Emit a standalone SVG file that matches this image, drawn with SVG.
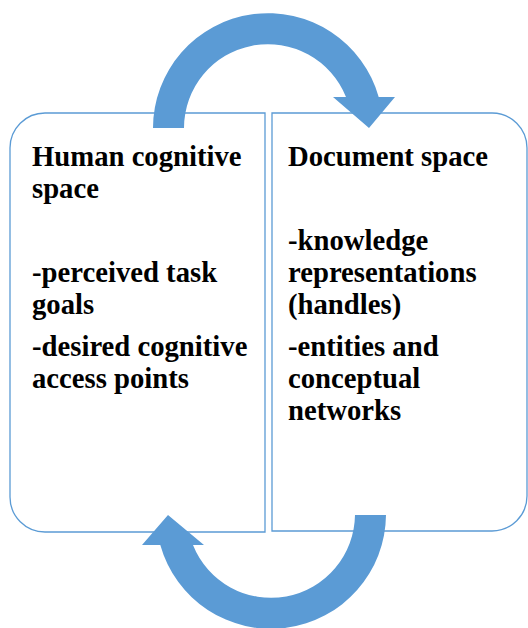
<svg xmlns="http://www.w3.org/2000/svg" width="528" height="628" viewBox="0 0 528 628">
  <style>
    .box { fill: #ffffff; stroke: #5b9bd5; stroke-width: 1.3; }
    .cycle { fill: #5b9bd5; stroke: none; }
    .label { font-family: 'Liberation Serif', 'Times New Roman', serif; font-weight: bold; font-size: 28.7px; fill: #000000; }
  </style>
  <rect width="528" height="628" fill="#ffffff"/>

  <!-- Left panel -->
  <g id="human-cognitive-space">
    <path class="box" d="M265,113 L45,113 A35,35 0 0 0 10,148 L10,497 A35,35 0 0 0 45,532 L265,532 Z"/>
    <text class="label" x="32" y="166">Human cognitive</text>
    <text class="label" x="32" y="198">space</text>
    <text class="label" x="32" y="282">-perceived task</text>
    <text class="label" x="32" y="314">goals</text>
    <text class="label" x="32" y="356">-desired cognitive</text>
    <text class="label" x="32" y="388">access points</text>
  </g>

  <!-- Right panel -->
  <g id="document-space">
    <path class="box" d="M272,113 L492,113 A35,35 0 0 1 527,148 L527,496 A35,35 0 0 1 492,531 L272,531 Z"/>
    <text class="label" x="288" y="166">Document space</text>
    <text class="label" x="288" y="250">-knowledge</text>
    <text class="label" x="288" y="282">representations</text>
    <text class="label" x="288" y="314">(handles)</text>
    <text class="label" x="288" y="356">-entities and</text>
    <text class="label" x="288" y="388">conceptual</text>
    <text class="label" x="288" y="420">networks</text>
  </g>

  <!-- Circular arrows linking the two spaces -->
  <g id="connectors">
    <path class="cycle" d="M153,128 A115,115 0 0 1 378.7,97 L395,97 L369,128 L333,97 L346,97 A84,84 0 0 0 184,128 Z"/>
    <path class="cycle" d="M386,515 A115,115 0 0 1 160.3,545 L142,545 L168,515 L204,545 L193,545 A84,84 0 0 0 355,515 Z"/>
  </g>
</svg>
